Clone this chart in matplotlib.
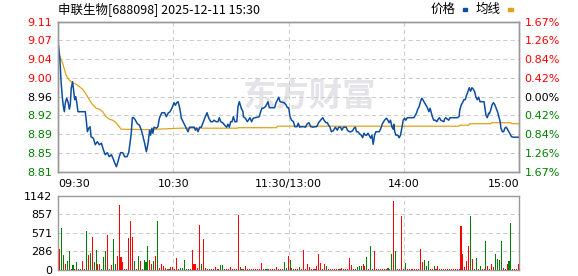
import matplotlib

matplotlib.use("Agg")
import matplotlib.pyplot as plt
import numpy as np
from matplotlib.patches import Rectangle

CJK = ["Noto Sans CJK SC", "DejaVu Sans"]

TITLE = "申联生物[688098] 2025-12-11 15:30"
LEGEND_LABELS = ["价格", "均线"]
WATERMARK = "东方财富"

PRICE_LOW, PRICE_HIGH = 8.81, 9.11
PRICE_LABELS = ["9.11", "9.07", "9.04", "9.00", "8.96", "8.92", "8.89", "8.85", "8.81"]
PCT_LABELS = ["1.67%", "1.26%", "0.84%", "0.42%", "0.00%", "0.42%", "0.84%", "1.26%", "1.67%"]
TIME_LABELS = ["09:30", "10:30", "11:30/13:00", "14:00", "15:00"]
TIME_MINUTES = [0, 60, 120, 180, 240]
VOL_TICKS = [0, 286, 571, 857, 1142]

# price line vertices (minutes after 09:30, trading time only)
PRICE_MIN = [
    0, 1, 1.6, 2.3, 2.8, 3.3, 3.8, 4.5, 5.2, 5.9, 6.4, 6.9, 7.6, 8.2, 8.7, 9.2, 9.7, 10.4,
    14.2, 14.6, 15.3, 16.0, 16.7, 17.2, 18.4, 19.4, 20.5, 21.5, 22.6, 23.6, 24.6, 25.7,
    26.7, 27.8, 28.8, 29.5, 30.4, 31.2, 31.9, 32.6, 33.7, 34.7, 35.9, 36.8, 37.5, 38.2,
    38.7, 39.4, 40.3, 41.3, 42.4, 43.4, 44.1, 45.1, 46.0, 46.9, 47.7, 48.2, 48.9, 49.4,
    50.0, 51.2, 52.0, 52.8, 53.4, 54.1, 55.5, 56.4, 57.3, 58.3, 59.3, 60.4, 61.1, 61.8,
    62.5, 63.2, 63.7, 64.2, 65.1, 66.0, 66.8, 67.7, 68.5, 71.0, 71.5, 72.2, 72.9, 73.8,
    74.6, 75.7, 76.7, 77.6, 78.4, 79.5, 80.5, 81.2, 82.3, 83.3, 84.0, 84.7, 85.7, 86.8,
    87.8, 88.5, 89.2, 89.9, 90.6, 91.3, 92.1, 93.1, 93.7, 94.4, 95.4, 96.3, 96.5, 97.5,
    98.6, 99.9, 100.8, 101.6, 104.8, 105.5, 106.2, 107.0, 108.2, 109.3, 110.0, 112.8,
    113.5, 114.2, 114.9, 115.6, 117.7, 118.7, 119.4, 120.1, 120.8, 121.6, 122.6, 123.3,
    124.4, 125.1, 125.8, 126.8, 128.0, 128.9, 129.6, 130.6, 131.7, 132.7, 133.7, 134.7,
    135.7, 136.7, 137.8, 138.5, 139.5, 140.2, 140.9, 141.6, 142.3, 143.3, 144.4, 145.4,
    146.1, 147.1, 147.8, 148.6, 150.0, 150.7, 151.6, 152.6, 153.4, 154.1, 154.8, 155.4,
    156.1, 157.2, 157.9, 158.6, 159.3, 160.0, 160.7, 161.4, 162.1, 162.8, 163.4, 164.1,
    164.8, 165.5, 167.3, 168.3, 168.9, 170.0, 171.0, 171.7, 172.4, 173.1, 173.8, 174.5,
    174.8, 175.3, 176.0, 176.9, 177.6, 178.3, 179.0, 179.7, 180.4, 181.1, 181.8, 185.3,
    186.0, 186.6, 187.3, 188.0, 188.7, 189.4, 190.1, 190.8, 191.9, 192.6, 193.1, 193.7,
    194.2, 194.9, 195.6, 196.5, 197.2, 197.9, 198.6, 199.3, 200.9, 201.2, 201.9, 202.7,
    203.4, 204.1, 207.8, 208.8, 209.2, 209.9, 210.6, 211.3, 212.0, 212.7, 213.4, 214.1,
    214.8, 215.5, 216.2, 216.9, 217.6, 218.3, 219.0, 219.7, 221.8, 222.3, 222.8, 223.5,
    224.2, 224.6, 225.3, 226.0, 226.7, 227.4, 228.1, 228.8, 229.5, 230.2, 230.6, 231.3,
    232.0, 232.6, 233.3, 234.0, 234.7, 235.4, 236.1, 237.0, 240.0,
]
PRICE = [
    9.072, 9.035, 8.99, 8.957, 8.94, 8.93, 8.947, 8.957, 8.95, 8.935, 8.944, 8.977, 8.99,
    8.97, 8.954, 8.96, 8.95, 8.93, 8.93, 8.917, 8.89, 8.897, 8.90, 8.88, 8.877, 8.864,
    8.87, 8.864, 8.867, 8.854, 8.844, 8.848, 8.84, 8.844, 8.835, 8.828, 8.82, 8.83, 8.84,
    8.848, 8.848, 8.84, 8.84, 8.848, 8.867, 8.89, 8.918, 8.918, 8.913, 8.906, 8.903,
    8.893, 8.883, 8.867, 8.85, 8.867, 8.893, 8.883, 8.897, 8.887, 8.899, 8.897, 8.90,
    8.917, 8.923, 8.928, 8.928, 8.92, 8.927, 8.93, 8.937, 8.948, 8.943, 8.948, 8.95,
    8.94, 8.93, 8.917, 8.91, 8.903, 8.897, 8.89, 8.899, 8.899, 8.893, 8.897, 8.89, 8.899,
    8.899, 8.91, 8.92, 8.928, 8.918, 8.91, 8.91, 8.913, 8.91, 8.91, 8.918, 8.91, 8.908,
    8.903, 8.899, 8.905, 8.899, 8.91, 8.91, 8.92, 8.91, 8.91, 8.94, 8.95, 8.937, 8.93,
    8.92, 8.917, 8.91, 8.918, 8.91, 8.917, 8.92, 8.93, 8.937, 8.937, 8.941, 8.95, 8.938,
    8.938, 8.948, 8.953, 8.959, 8.95, 8.948, 8.944, 8.938, 8.938, 8.92, 8.913, 8.91,
    8.90, 8.90, 8.907, 8.899, 8.90, 8.90, 8.899, 8.905, 8.908, 8.90, 8.899, 8.90, 8.90,
    8.908, 8.913, 8.918, 8.913, 8.908, 8.908, 8.903, 8.899, 8.89, 8.892, 8.899, 8.893,
    8.899, 8.899, 8.893, 8.899, 8.899, 8.893, 8.89, 8.89, 8.892, 8.897, 8.899, 8.89,
    8.89, 8.885, 8.883, 8.878, 8.887, 8.883, 8.883, 8.887, 8.882, 8.877, 8.883, 8.865,
    8.883, 8.89, 8.89, 8.899, 8.906, 8.913, 8.917, 8.913, 8.908, 8.913, 8.90, 8.895,
    8.905, 8.89, 8.883, 8.883, 8.878, 8.883, 8.897, 8.913, 8.917, 8.913, 8.918, 8.918,
    8.923, 8.927, 8.935, 8.94, 8.95, 8.957, 8.953, 8.948, 8.941, 8.935, 8.93, 8.937,
    8.93, 8.92, 8.913, 8.913, 8.91, 8.915, 8.918, 8.913, 8.91, 8.915, 8.918, 8.915,
    8.913, 8.918, 8.918, 8.92, 8.934, 8.943, 8.948, 8.954, 8.954, 8.963, 8.97, 8.978,
    8.971, 8.978, 8.975, 8.97, 8.959, 8.954, 8.959, 8.95, 8.95, 8.937, 8.923, 8.918,
    8.927, 8.926, 8.934, 8.944, 8.948, 8.944, 8.937, 8.93, 8.92, 8.91, 8.897, 8.89,
    8.89, 8.897, 8.899, 8.895, 8.89, 8.885, 8.88, 8.879, 8.879,
]

# average price line vertices
AVG_MIN = [
    0, 2.4, 4.2, 5.9, 7.6, 9.4, 11.1, 12.8, 14.6, 16.3, 18.0, 19.8, 21.5, 23.3, 25.0,
    26.7, 28.5, 30.2, 31.9, 32.8, 48.4, 52.0, 63.3, 93.4, 93.7, 113.8, 114.2, 187.3,
    208.7, 209.2, 213.9, 214.4, 225.3, 225.6, 235.7, 236.1, 240,
]
AVG = [
    9.05, 9.027, 9.003, 8.993, 8.988, 8.985, 8.98, 8.975, 8.965, 8.954, 8.944, 8.937,
    8.935, 8.93, 8.92, 8.915, 8.913, 8.908, 8.90, 8.895, 8.894, 8.895, 8.897, 8.897,
    8.898, 8.898, 8.901, 8.901, 8.901, 8.903, 8.903, 8.906, 8.906, 8.908, 8.908, 8.906,
    8.906,
]

# one bar per minute (09:31 .. 15:00)
VOLUME = [
    318, 641, 238, 100, 143, 286, 20, 74, 8, 127, 15, 20, 143, 15, 604, 238, 270, 509,
    127, 302, 90, 100, 15, 207, 286, 540, 20, 74, 477, 100, 212, 1000, 196, 117, 8, 8,
    498, 763, 509, 143, 15, 223, 143, 20, 159, 127, 366, 159, 100, 143, 212, 763, 37,
    100, 64, 37, 15, 15, 48, 48, 10, 180, 15, 37, 37, 159, 15, 15, 15, 302, 85, 100, 37,
    700, 85, 482, 37, 15, 8, 8, 15, 48, 15, 15, 80, 80, 15, 8, 15, 48, 8, 15, 15, 843,
    48, 20, 20, 64, 8, 8, 8, 15, 15, 20, 15, 106, 15, 8, 8, 15, 8, 8, 15, 48, 8, 20, 15,
    127, 37, 223,
    159, 37, 8, 8, 8, 48, 8, 302, 8, 90, 48, 8, 8, 8, 64, 254, 106, 8, 85, 64, 8, 8, 8,
    8, 8, 8, 20, 30, 8, 8, 8, 180, 80, 8, 15, 48, 64, 64, 90, 64, 207, 15, 366, 15, 286,
    15, 20, 15, 20, 15, 15, 30, 15, 244, 1065, 286, 8, 15, 827, 15, 111, 8, 15, 15, 20,
    15, 8, 8, 318, 127, 159, 64, 143, 15, 8, 64, 8, 64, 15, 8, 8, 8, 8, 20, 8, 8, 8, 8,
    8, 684, 254, 48, 143, 366, 827, 175, 15, 191, 8, 64, 8, 8, 445, 64, 8, 95, 48, 254,
    175, 159, 445, 30, 20, 95, 143, 731, 15, 8, 8, 95,
]
# r = price up in that minute (red bar), g = down (green bar)
VOL_DIR = (
    "rggrggrgrg" "rgrrgrgrgg" "rrgggrgrgg" "rrrrrrrrrg" "rgrggggrrg" "rgrrrrrgrr"
    "r"
    "rrgggrgrrr" "rrrgrrrgrr" "rrrggrrrrr" "rrrgrgrrrr" "rrrrrrggrr" "rrrrrrggr"
    "grgrrgrrrr" "rrrrrrrrrg" "rrr" "rrrgrrrr" "rrrrgggrrg" "rgrrrrrrrr"
    "grgrgrrrrg" "rrrrrrrrrg" "ggrrgrrrgr" "rrgrrrrrrr" "rrrgrggrgr" "rgrrrrgggg"
    "rgrggrr" "r" "r"
)

BLUE = "#0d4ea0"
ORANGE = "#e0a21e"
RED = "#ff0000"
GREEN = "#008000"
GRID = "#cccccc"
FRAME = "#999999"

W, H = 578, 276


def fx(px):
    return px / W


def fy(py):
    return 1 - py / H


fig = plt.figure(figsize=(W / 100, H / 100), dpi=100)
ax = fig.add_axes([fx(58), fy(171.7), 461 / W, 150 / H])
axv = fig.add_axes([fx(58), fy(270), 461 / W, 74 / H])

label_colors = [RED] * 4 + ["#000000"] + [GREEN] * 4
price_ticks = np.linspace(PRICE_HIGH, PRICE_LOW, len(PRICE_LABELS))

# price panel
ax.set_xlim(0, 240)
ax.set_ylim(PRICE_LOW, PRICE_HIGH)
for y in price_ticks[1:-1]:
    ax.axhline(y, color=GRID, lw=0.75, ls=(0, (4, 3)), zorder=1)
for m in TIME_MINUTES[1:-1]:
    ax.axvline(m, color=GRID, lw=0.75, ls=(0, (4, 3)), zorder=1)
ax.text(0.543, 0.5, WATERMARK, transform=ax.transAxes, ha="center", va="center",
        fontsize=24, fontweight="bold", color="#e4e4e8", family=CJK, zorder=0)
ax.plot(AVG_MIN, AVG, color=ORANGE, lw=0.9, zorder=3)
ax.plot(PRICE_MIN, PRICE, color=BLUE, lw=1.1, zorder=4)

ax.set_yticks(price_ticks)
ax.set_yticklabels(PRICE_LABELS)
for lab, c in zip(ax.get_yticklabels(), label_colors):
    lab.set_color(c)
ax.set_xticks(TIME_MINUTES)
ax.set_xticklabels(TIME_LABELS)
xlabs = ax.get_xticklabels()
xlabs[0].set_horizontalalignment("left")
xlabs[-1].set_horizontalalignment("right")
ax.tick_params(axis="both", length=0, labelsize=8)
ax.tick_params(axis="y", pad=4)
ax.tick_params(axis="x", pad=5)

axr = ax.twinx()
axr.set_ylim(PRICE_LOW, PRICE_HIGH)
axr.set_yticks(price_ticks)
axr.set_yticklabels(PCT_LABELS)
for lab, c in zip(axr.get_yticklabels(), label_colors):
    lab.set_color(c)
axr.tick_params(axis="y", length=0, labelsize=8, pad=4)

# volume panel
pos = np.arange(len(VOLUME)) + 0.8
colors = [RED if d == "r" else GREEN for d in VOL_DIR]
axv.bar(pos, VOLUME, width=0.55, color=colors, linewidth=0, antialiased=False, zorder=3)
axv.set_xlim(0, 240)
axv.set_ylim(0, VOL_TICKS[-1])
for v in VOL_TICKS[1:-1]:
    axv.axhline(v, color=GRID, lw=0.75, ls=(0, (4, 3)), zorder=1)
for m in TIME_MINUTES[1:-1]:
    axv.axvline(m, color=GRID, lw=0.75, ls=(0, (4, 3)), zorder=1)
axv.set_xticks([])
axv.set_yticks(VOL_TICKS)
axv.set_yticklabels([str(v) for v in VOL_TICKS])
axv.tick_params(axis="y", length=0, labelsize=8, pad=4)

for a in (ax, axr, axv):
    for sp in a.spines.values():
        sp.set_color(FRAME)
        sp.set_linewidth(1.0)

# header
fig.text(fx(58), fy(9), TITLE, family=CJK, fontsize=9, va="center", ha="left")
fig.text(fx(431), fy(9), LEGEND_LABELS[0], family=CJK, fontsize=9, va="center", ha="left")
fig.text(fx(476), fy(9), LEGEND_LABELS[1], family=CJK, fontsize=9, va="center", ha="left")
fig.add_artist(Rectangle((fx(462.5), fy(10.5)), 4.5 / W, 2.5 / H, color=BLUE,
                         transform=fig.transFigure))
fig.add_artist(Rectangle((fx(508), fy(10.5)), 4.5 / W, 2.5 / H, color=ORANGE,
                         transform=fig.transFigure))

fig.savefig("out.png", dpi=100)
